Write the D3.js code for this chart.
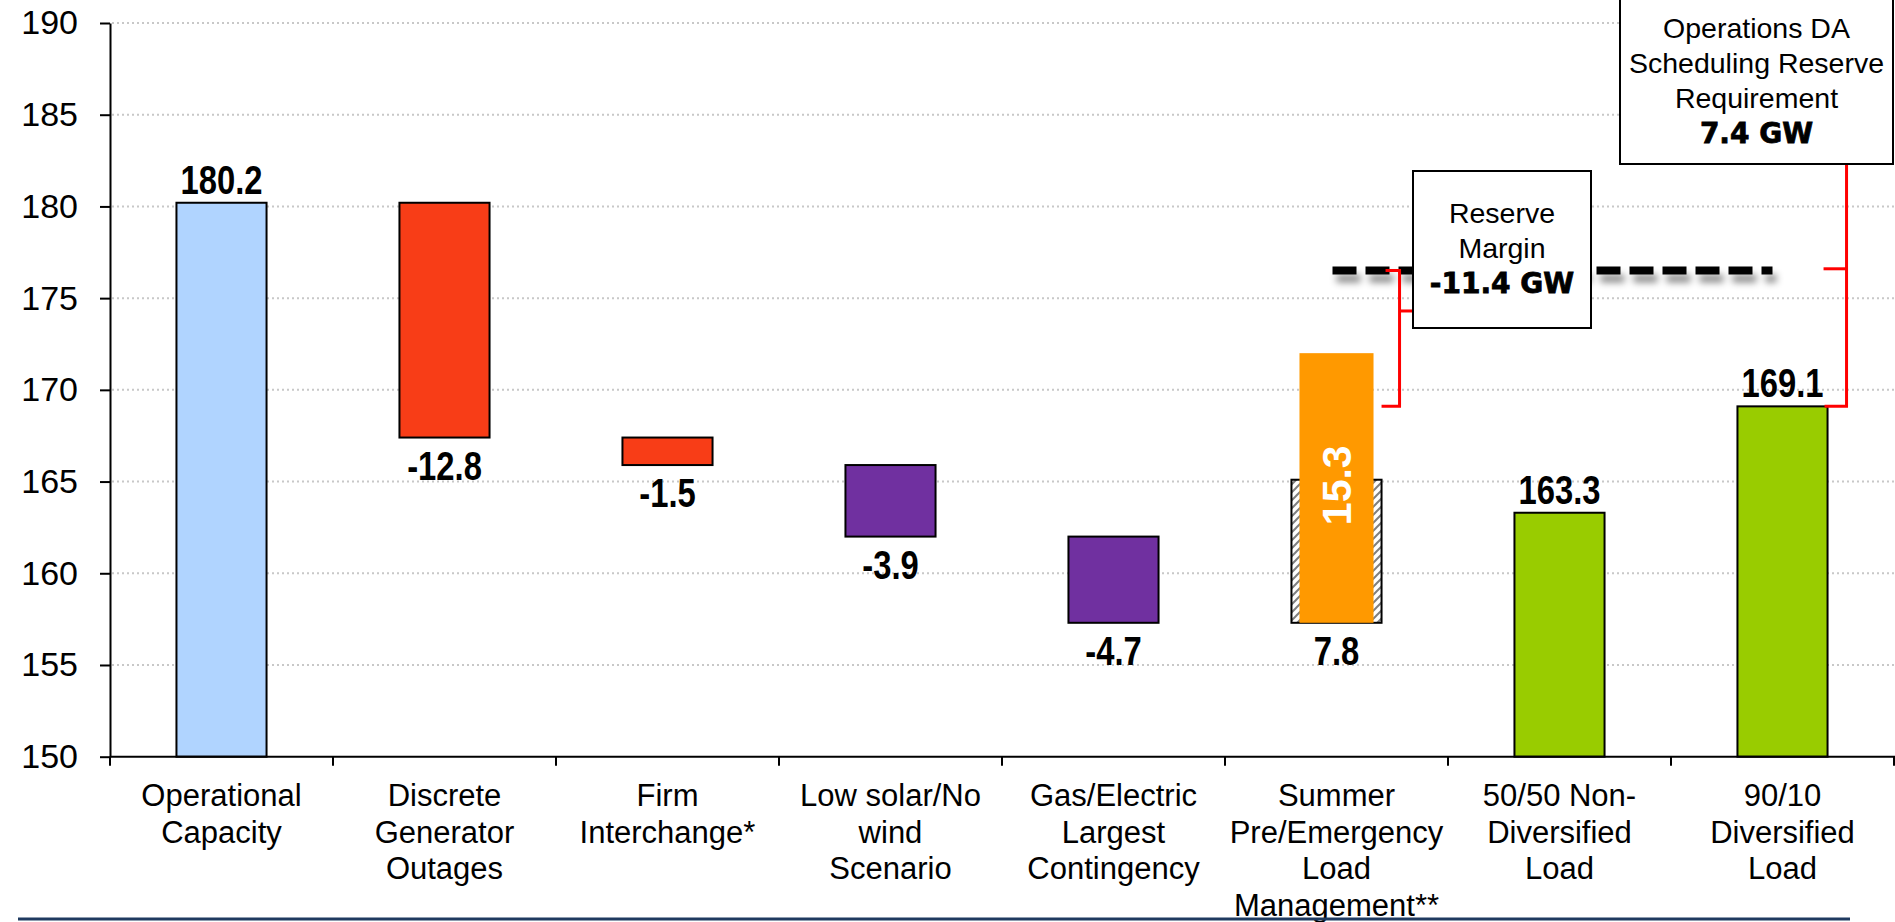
<!DOCTYPE html>
<html>
<head>
<meta charset="utf-8">
<script src="https://cdn.jsdelivr.net/npm/d3@7"></script>
<style>
  body { margin: 0; background: #fff; }
  svg { display: block; }
</style>
</head>
<body>
<script>
const categories = [
  ['Operational', 'Capacity'],
  ['Discrete', 'Generator', 'Outages'],
  ['Firm', 'Interchange*'],
  ['Low solar/No', 'wind', 'Scenario'],
  ['Gas/Electric', 'Largest', 'Contingency'],
  ['Summer', 'Pre/Emergency', 'Load', 'Management**'],
  ['50/50 Non-', 'Diversified', 'Load'],
  ['90/10', 'Diversified', 'Load'],
];
const values = [180.2, -12.8, -1.5, -3.9, -4.7, 7.8, 163.3, 169.1];
const kinds = ['total', 'step', 'step', 'step', 'step', 'step', 'total', 'total'];
const fills = ['#B0D4FF', '#F83D17', '#F83D17', '#7030A0', '#7030A0', 'url(#hatch)', '#99CC00', '#99CC00'];
const yTicks = [150, 155, 160, 165, 170, 175, 180, 185, 190];

// orange bar drawn over the hatched load management bar
const loadMgmtRange = [157.3, 172.0];
const loadMgmtLabel = '15.3';

const reserveLevel = 176.5;
const reserveMarginText = ['Reserve', 'Margin', '-11.4 GW'];
const opsReqText = ['Operations DA', 'Scheduling Reserve', 'Requirement', '7.4 GW'];

const width = 1895;
const height = 922;

const svg = d3.select('body').append('svg')
  .attr('width', width)
  .attr('height', height);

const defs = svg.append('defs');
const hatch = defs.append('pattern')
  .attr('id', 'hatch')
  .attr('patternUnits', 'userSpaceOnUse')
  .attr('width', 8)
  .attr('height', 8);
hatch.append('rect').attr('width', 8).attr('height', 8).attr('fill', '#fff');
hatch.append('path')
  .attr('d', 'M-2,2 l4,-4 M0,8 l8,-8 M6,10 l4,-4')
  .attr('stroke', '#7f7f7f')
  .attr('stroke-width', 2);

const shadow = defs.append('filter')
  .attr('id', 'shadow')
  .attr('filterUnits', 'userSpaceOnUse')
  .attr('x', 0).attr('y', 0)
  .attr('width', width).attr('height', height);
shadow.append('feDropShadow')
  .attr('dx', 4).attr('dy', 8)
  .attr('stdDeviation', 3.5)
  .attr('flood-color', '#000')
  .attr('flood-opacity', 0.45);

const x = d3.scaleBand()
  .domain(d3.range(categories.length))
  .range([110, 1894]);

const y = d3.scaleLinear()
  .domain([150, 190])
  .range([756.7, 23]);

const barW = x.bandwidth() * 0.404;
const cx = i => x(i) + x.bandwidth() / 2;

// waterfall extents
let running = 0;
const bars = values.map((v, i) => {
  let lo;
  let hi;
  if (kinds[i] === 'total') {
    lo = 150;
    hi = v;
    running = v;
  } else {
    const next = running + v;
    lo = Math.min(running, next);
    hi = Math.max(running, next);
    running = next;
  }
  return { i, v, lo, hi, kind: kinds[i] };
});

// grid
svg.append('g')
  .selectAll('line')
  .data(yTicks.filter(t => t > 150))
  .enter()
  .append('line')
  .attr('x1', 112)
  .attr('x2', width)
  .attr('y1', d => y(d))
  .attr('y2', d => y(d))
  .attr('stroke', '#c8c8c8')
  .attr('stroke-width', 2)
  .attr('stroke-dasharray', '2,3');

// y axis
const yAxis = svg.append('g')
  .attr('transform', 'translate(110,0)')
  .call(d3.axisLeft(y).tickValues(yTicks).tickSize(10).tickPadding(22).tickSizeOuter(0));
yAxis.select('.domain').attr('stroke', '#000').attr('stroke-width', 2);
yAxis.selectAll('.tick line').attr('stroke', '#000').attr('stroke-width', 2);
yAxis.selectAll('.tick text')
  .attr('fill', '#000')
  .style('font-family', '"Liberation Sans", Arial, sans-serif')
  .style('font-size', '34px');

// bars
svg.append('g')
  .selectAll('rect')
  .data(bars)
  .enter()
  .append('rect')
  .attr('x', d => cx(d.i) - barW / 2)
  .attr('y', d => y(d.hi))
  .attr('width', barW)
  .attr('height', d => y(d.lo) - y(d.hi))
  .attr('fill', d => fills[d.i])
  .attr('stroke', '#000')
  .attr('stroke-width', 2);

const lm = 5;
svg.append('rect')
  .attr('x', cx(lm) - x.bandwidth() * 0.166)
  .attr('y', y(loadMgmtRange[1]))
  .attr('width', x.bandwidth() * 0.332)
  .attr('height', y(loadMgmtRange[0]) - y(loadMgmtRange[1]))
  .attr('fill', '#FF9900');

svg.append('text')
  .attr('transform', `translate(${cx(lm) + 14},${y(164.8)}) rotate(-90)`)
  .attr('text-anchor', 'middle')
  .attr('fill', '#fff')
  .style('font-family', '"Liberation Sans", Arial, sans-serif')
  .style('font-weight', 'bold')
  .style('font-size', '41px')
  .text(loadMgmtLabel);

// x axis
const xAxis = svg.append('g')
  .attr('transform', `translate(0,${y(150)})`);
xAxis.append('line')
  .attr('x1', 110).attr('x2', width)
  .attr('stroke', '#000').attr('stroke-width', 2);
xAxis.selectAll('.xtick')
  .data(d3.range(categories.length + 1))
  .enter()
  .append('line')
  .attr('x1', d => (d < categories.length ? x(d) : x.range()[1]))
  .attr('x2', d => (d < categories.length ? x(d) : x.range()[1]))
  .attr('y1', 0)
  .attr('y2', 9)
  .attr('stroke', '#000')
  .attr('stroke-width', 2);

const catText = svg.append('g')
  .selectAll('text')
  .data(categories)
  .enter()
  .append('text')
  .attr('text-anchor', 'middle')
  .attr('fill', '#000')
  .style('font-family', '"Liberation Sans", Arial, sans-serif')
  .style('font-size', '31px');
catText.selectAll('tspan')
  .data((d, i) => d.map(line => ({ line, i })))
  .enter()
  .append('tspan')
  .attr('x', d => cx(d.i))
  .attr('y', (d, k) => 806 + k * 36.5)
  .text(d => d.line);

// footer rule
svg.append('line')
  .attr('x1', 18).attr('x2', 1850)
  .attr('y1', 919).attr('y2', 919)
  .attr('stroke', '#1F3A60')
  .attr('stroke-width', 3);

// value labels, squeezed to look like a narrow face
svg.append('g')
  .selectAll('text')
  .data(bars)
  .enter()
  .append('text')
  .attr('transform', d => `translate(${cx(d.i)},${d.kind === 'total' ? y(d.hi) - 9 : y(d.lo) + 42}) scale(0.82,1)`)
  .attr('text-anchor', 'middle')
  .attr('fill', '#000')
  .style('font-family', '"Liberation Sans", Arial, sans-serif')
  .style('font-weight', 'bold')
  .style('font-size', '40px')
  .text(d => d.v.toFixed(1));

// reserve dashed line
svg.append('line')
  .attr('x1', cx(lm) - 4)
  .attr('x2', cx(7) - 10)
  .attr('y1', y(reserveLevel))
  .attr('y2', y(reserveLevel))
  .attr('stroke', '#000')
  .attr('stroke-width', 8)
  .attr('stroke-dasharray', '24,9')
  .attr('filter', 'url(#shadow)');

// red brackets
const red = svg.append('g')
  .attr('fill', 'none')
  .attr('stroke', '#FF0000')
  .attr('stroke-width', 3);

const b1 = cx(lm) + barW / 2 + 18;
red.append('path')
  .attr('d', `M${b1 - 14},${y(reserveLevel)} H${b1} V${y(running)} H${cx(lm) + barW / 2}`);
red.append('path')
  .attr('d', `M${b1},${y(174.3)} H${b1 + 14}`);

const b2 = cx(7) + barW / 2 + 19;
red.append('path')
  .attr('d', `M${cx(7) + barW / 2 - 3},${y(values[7])} H${b2} V${y(182.3)}`);
red.append('path')
  .attr('d', `M${b2 - 23},${y(reserveLevel + 0.1)} H${b2}`);

// annotation boxes
function noteBox(left, top, w, h, lines, firstY) {
  const g = svg.append('g');
  g.append('rect')
    .attr('x', left)
    .attr('y', top)
    .attr('width', w)
    .attr('height', h)
    .attr('fill', '#fff')
    .attr('stroke', '#000')
    .attr('stroke-width', 2);
  g.selectAll('text')
    .data(lines)
    .enter()
    .append('text')
    .attr('x', left + w / 2)
    .attr('y', (d, k) => firstY + k * 35)
    .attr('text-anchor', 'middle')
    .attr('fill', '#000')
    .style('font-family', (d, k) => (k === lines.length - 1 ? '"DejaVu Sans", Verdana, sans-serif' : '"Liberation Sans", Arial, sans-serif'))
    .style('font-weight', (d, k) => (k === lines.length - 1 ? 'bold' : 'normal'))
    .style('font-size', (d, k) => (k === lines.length - 1 ? '28px' : '28.5px'))
    .style('stroke', (d, k) => (k === lines.length - 1 ? '#000' : 'none'))
    .style('stroke-width', 0.8)
    .text(d => d);
}

noteBox(1413, 171, 178, 157, reserveMarginText, 223);
noteBox(1620, -4, 273, 168, opsReqText, 38);
</script>
</body>
</html>
